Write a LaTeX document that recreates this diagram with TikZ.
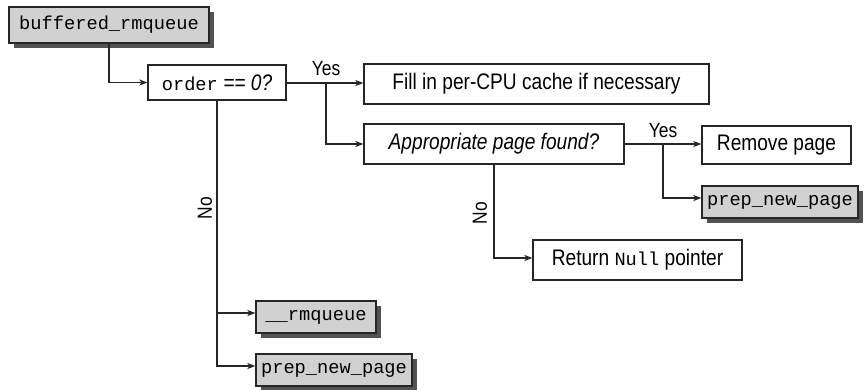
\documentclass[tikz,border=0pt]{standalone}
\usepackage{fontspec}
\setmainfont{Liberation Sans}[FakeStretch=0.85]
\setmonofont{Liberation Mono}
\usetikzlibrary{arrows.meta,shadows,calc}
\newcommand{\mytt}[1]{{\fontsize{18.7}{20}\selectfont\ttfamily #1}}
\tikzset{
  box/.style={draw=black!85, line width=1.2pt, fill=white, inner sep=0pt,
    minimum height=40pt, font=\fontsize{22.5}{24}\selectfont},
  gbox/.style={box, fill=black!18, minimum height=32pt,
    general shadow={fill=black!68, shadow xshift=5pt, shadow yshift=-5pt}},
  conn/.style={draw=black!85, line width=1.5pt},
  arr/.style={conn, -{Stealth[length=8pt,width=6pt,inset=2pt]}},
  lbl/.style={inner sep=0pt, font=\fontsize{20.5}{22}\selectfont},
}
\begin{document}
\begin{tikzpicture}[x=1pt,y=-1pt]
\useasboundingbox[fill=white] (0,0) rectangle (865,389);
% nodes
\node[gbox, minimum width=200pt, minimum height=36pt] (buf) at (109,25) {\mytt{buffered\_rmqueue}};
\node[box, minimum width=138pt, minimum height=35pt] (order) at (217,82.5) {\mytt{order} \textit{== 0?}};
\node[box, minimum width=345pt] (fill) at (536.5,84) {Fill in per-CPU cache if necessary};
\node[box, minimum width=260pt] (appr) at (494,144) {\textit{Appropriate page found?}};
\node[box, minimum width=149pt, minimum height=38pt] (remove) at (776.5,145) {Remove page};
\node[gbox, minimum width=156pt] (prep1) at (780,202) {\mytt{prep\_new\_page}};
\node[box, minimum width=209pt] (ret) at (637.5,260) {Return \mytt{Null} pointer};
\node[gbox, minimum width=120pt] (rmq) at (316,317) {\mytt{\_\_rmqueue}};
\node[gbox, minimum width=156pt] (prep2) at (334,370) {\mytt{prep\_new\_page}};
% junctions
\coordinate (j1) at (326,83);
\coordinate (j2) at (663,144);
% connectors
\draw[arr] (buf.south) |- (order.west);
\draw[arr] (order.east |- j1) -- (fill.west |- j1);
\draw[arr] (j1) |- (appr.west);
\draw[arr] (appr.east) -- (remove.west |- appr.east);
\draw[arr] (j2) |- ([yshift=4pt]prep1.west);
\draw[arr] (appr.south) |- ([yshift=2pt]ret.west);
\draw[arr] (order.south) |- ([yshift=4pt]rmq.west);
\draw[arr] (order.south) |- ([yshift=4pt]prep2.west);
% labels
\node[lbl] (yes1) at (326,69) {Yes};
\node[lbl] (yes2) at (663,131) {Yes};
\node[lbl, rotate=90] (no1) at (205,208) {No};
\node[lbl, rotate=90] (no2) at (480,213) {No};
\end{tikzpicture}
\end{document}
